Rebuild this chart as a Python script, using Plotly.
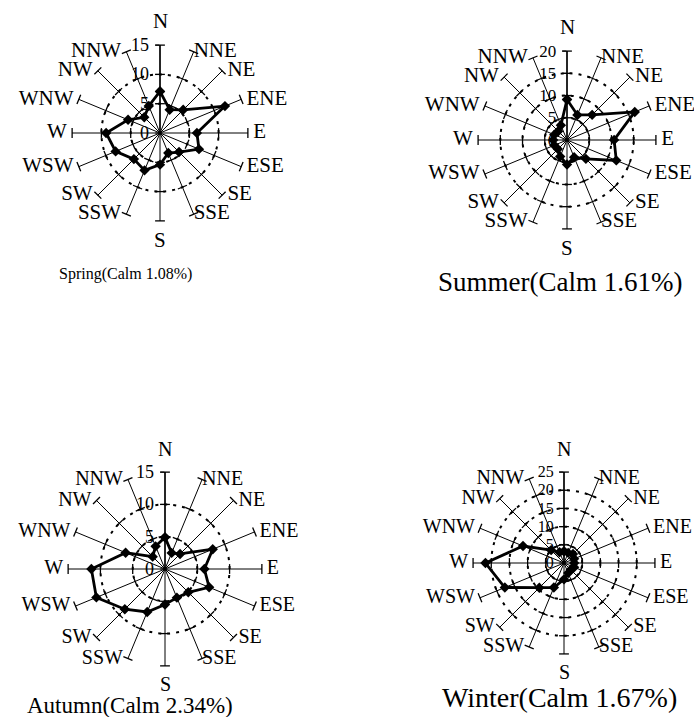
import plotly.graph_objects as go

dirs = ["N", "NNE", "NE", "ENE", "E", "ESE", "SE", "SSE",
        "S", "SSW", "SW", "WSW", "W", "WNW", "NW", "NNW"]

spring = [7.1, 4.3, 5.6, 12.0, 6.3, 7.2, 4.6, 3.7, 5.4, 6.9, 6.3, 8.2, 9.2, 5.9, 3.8, 5.0]
summer = [9.1, 6.1, 8.0, 16.5, 10.6, 12.0, 6.0, 4.2, 5.5, 4.0, 2.9, 3.1, 3.1, 3.1, 2.8, 3.6]
autumn = [4.9, 2.7, 3.3, 8.0, 6.1, 7.4, 5.1, 4.8, 5.5, 7.2, 8.8, 11.5, 11.4, 6.6, 2.7, 3.8]
winter = [3.2, 3.0, 3.5, 3.0, 2.8, 3.0, 2.6, 3.0, 4.5, 7.3, 9.6, 17.6, 21.6, 12.2, 5.0, 3.2]

seasons = ["Spring(Calm 1.08%)", "Summer(Calm 1.61%)",
           "Autumn(Calm 2.34%)", "Winter(Calm 1.67%)"]
rmax = [15, 20, 15, 25]
rstep = 5

W, H = 694, 717
# (center x, center y, radius px, angular font, radial font, title x, title y, title size)
geo = [
    (160, 133, 88, 21, 18, 125, 274, 16),
    (567, 140, 89, 21, 17, 560, 282, 27),
    (165, 569, 97, 20, 18, 130, 705, 23),
    (564, 563, 91, 20, 16, 559, 697, 28),
]

FONT = "Times New Roman, Liberation Serif, DejaVu Serif, serif"
NB = "\u00a0"


def label_pos(d):
    right = d in ("NNE", "NE", "ENE", "E", "ESE", "SE", "SSE")
    pad = "" if d in ("NNE", "SSE") else NB
    if right:
        return "middle right", pad + d
    return "middle left", d + pad


fig = go.Figure()
layout = {}
annotations = []
for i, (vals, title, mx, g) in enumerate(zip([spring, summer, autumn, winter], seasons, rmax, geo)):
    cx, cy, R, af, rf, tx, ty, ts = g
    pname = "polar" if i == 0 else f"polar{i+1}"
    # spoke tick marks
    rings = list(range(rstep, mx + 1, rstep))
    tt, rr, aa = [], [], []
    for k, d in enumerate(dirs):
        for r in rings:
            tt.append(d)
            rr.append(r)
            aa.append(k * 22.5)
    fig.add_trace(go.Scatterpolar(
        r=rr, theta=tt, mode="markers", subplot=pname,
        marker=dict(symbol="line-ew", size=7, angle=aa,
                    line=dict(color="black", width=1.3)),
        hoverinfo="skip", showlegend=False))
    # direction labels (N and S as annotations below)
    side = [d for d in dirs if d not in ("N", "S")]
    pos = [label_pos(d) for d in side]
    fig.add_trace(go.Scatterpolar(
        r=[mx] * len(side), theta=side, mode="text", text=[p[1] for p in pos],
        textposition=[p[0] for p in pos], subplot=pname,
        textfont=dict(family=FONT, size=af, color="black"),
        hoverinfo="skip", showlegend=False, cliponaxis=False))
    fig.add_trace(go.Scatterpolar(
        r=vals + [vals[0]], theta=dirs + [dirs[0]], mode="lines+markers",
        subplot=pname,
        line=dict(color="black", width=2.8),
        marker=dict(symbol="diamond", size=8, color="black"),
        showlegend=False, name=title))
    layout[pname] = dict(
        domain=dict(x=[(cx - R) / W, (cx + R) / W],
                    y=[1 - (cy + R) / H, 1 - (cy - R) / H]),
        bgcolor="white",
        angularaxis=dict(
            direction="clockwise", rotation=90, type="category",
            categoryarray=dirs, categoryorder="array",
            showline=False, showgrid=True, gridcolor="black", gridwidth=1.4,
            ticks="", showticklabels=False),
        radialaxis=dict(
            range=[0, mx + 0.02], tickvals=[0] + rings, angle=90,
            showline=True, linecolor="black", linewidth=1.4,
            ticks="outside", ticklen=4, tickcolor="black",
            side="counterclockwise", tickangle=90,
            showgrid=True, gridcolor="black", gridwidth=1.6, griddash="3px,6px",
            tickfont=dict(family=FONT, size=rf, color="black")),
    )
    annotations.append(dict(
        text="N", x=cx / W, y=1 - (cy - R - 10) / H, xref="paper", yref="paper",
        xanchor="center", yanchor="bottom", showarrow=False,
        font=dict(family=FONT, size=af, color="black")))
    annotations.append(dict(
        text="S", x=cx / W, y=1 - (cy + R + 5) / H, xref="paper", yref="paper",
        xanchor="center", yanchor="top", showarrow=False,
        font=dict(family=FONT, size=af, color="black")))
    annotations.append(dict(
        text=title, x=tx / W, y=1 - ty / H, xref="paper", yref="paper",
        xanchor="center", yanchor="middle", showarrow=False,
        font=dict(family=FONT, size=ts, color="black")))

fig.update_layout(
    width=W, height=H, margin=dict(l=0, r=0, t=0, b=0),
    paper_bgcolor="white", plot_bgcolor="white",
    annotations=annotations, **layout)

fig.write_html("out.html")
